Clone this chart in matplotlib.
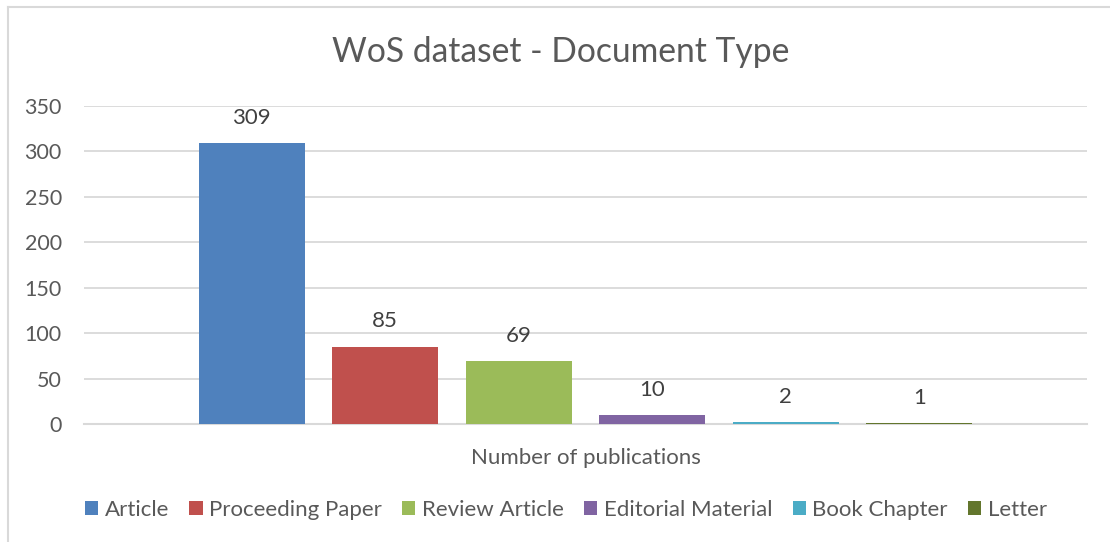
import matplotlib
matplotlib.use("Agg")
import matplotlib.pyplot as plt
from matplotlib.lines import Line2D
from matplotlib.patches import Patch

# ---- data ----
doc_types = ["Article", "Proceeding Paper", "Review Article",
             "Editorial Material", "Book Chapter", "Letter"]
counts = [309, 85, 69, 10, 2, 1]
colors = ["#4F81BD", "#C0504D", "#9BBB59", "#8064A2", "#4BACC6", "#63762D"]
category = "Number of publications"
title = "WoS dataset - Document Type"
y_ticks = [0, 50, 100, 150, 200, 250, 300, 350]

plt.rcParams["font.family"] = ["Lato", "DejaVu Sans"]

W, H = 1110, 542
fig = plt.figure(figsize=(W / 100, H / 100), dpi=100)

# axes area in pixel coords of the reference
left, right, top, bottom = 84, 1087, 106, 424
ax = fig.add_axes([left / W, 1 - bottom / H, (right - left) / W, (bottom - top) / H])

n = len(counts)
bar_w = 0.795
offsets = [i - (n - 1) / 2 for i in range(n)]
bars = ax.bar(offsets, counts, width=bar_w, color=colors, zorder=3)

for b, v in zip(bars, counts):
    ax.annotate(str(v), (b.get_x() + b.get_width() / 2, v),
                xytext=(0, 11), textcoords="offset points",
                ha="center", va="bottom", fontsize=16, color="#404040")

ax.set_xlim(-3.756, 3.756)
ax.set_ylim(0, 350)
ax.set_yticks(y_ticks)
ax.set_xticks([0])
ax.set_xticklabels([category])
ax.tick_params(axis="x", length=0, pad=17, labelsize=16, labelcolor="#595959")
ax.tick_params(axis="y", length=0, pad=16, labelsize=15.5, labelcolor="#595959")
ax.yaxis.grid(True, color="#D9D9D9", linewidth=1.3, zorder=0)
for s in ["top", "right", "left"]:
    ax.spines[s].set_visible(False)
ax.spines["bottom"].set_color("#D9D9D9")
ax.spines["bottom"].set_linewidth(1.5)

fig.text(561 / W, 1 - 52 / H, title, ha="center", va="center",
         fontsize=24.2, color="#595959")

handles = [Patch(facecolor=c, edgecolor="none") for c in colors]
fig.legend(handles, doc_types, loc="center", ncol=n,
           bbox_to_anchor=(566 / W, 1 - 510 / H), frameon=False,
           fontsize=16, labelcolor="#595959",
           handlelength=0.6, handleheight=0.6, handletextpad=0.3,
           columnspacing=0.9)

# chart area border (top and left only visible in the crop)
fig.add_artist(Line2D([8 / W, 8 / W], [0, 1 - 7 / H], color="#D9D9D9",
                      linewidth=1.5, transform=fig.transFigure))
fig.add_artist(Line2D([8 / W, 1], [1 - 7 / H, 1 - 7 / H], color="#D9D9D9",
                      linewidth=1.5, transform=fig.transFigure))

fig.savefig("out.png", dpi=100)
